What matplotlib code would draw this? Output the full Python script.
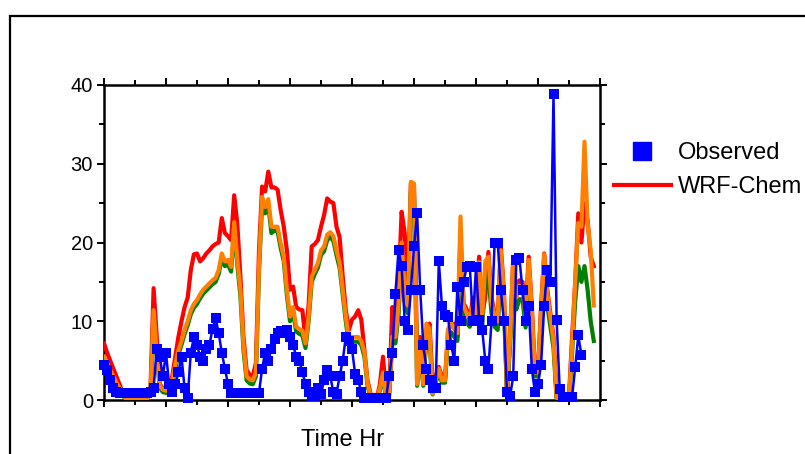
import numpy as np
import matplotlib
matplotlib.use('Agg')
import matplotlib.pyplot as plt
from matplotlib.lines import Line2D
from matplotlib.patches import Rectangle
from matplotlib.ticker import MultipleLocator

plt.rcParams['font.family'] = ['Liberation Sans', 'DejaVu Sans']

# ---- data (hourly) ----
wrf_chem = [
    7.2, 6.0, 5.0, 4.0, 3.0, 2.0, 1.0, 0.3, 0.2, 0.2,
    0.2, 0.2, 0.2, 0.2, 0.3, 1.5, 14.2, 8.0, 2.0, 1.5,
    1.3, 1.2, 3.0, 5.5, 8.0, 10.0, 11.8, 13.0, 16.5, 18.5,
    18.6, 17.6, 18.0, 18.6, 19.0, 19.5, 19.8, 20.0, 23.1, 21.2,
    20.8, 20.3, 26.0, 22.4, 15.7, 8.0, 3.8, 3.2, 3.0, 4.7,
    19.0, 27.1, 26.5, 29.0, 27.0, 27.0, 26.7, 24.1, 22.0, 19.0,
    14.0, 14.4, 11.8, 11.5, 11.4, 7.6, 12.0, 19.5, 19.8, 20.3,
    22.0, 23.5, 25.6, 25.2, 25.0, 22.0, 20.7, 15.7, 11.4, 8.9,
    10.2, 10.6, 11.4, 10.2, 6.3, 2.5, 0.8, 0.2, 0.2, 2.0,
    5.5, 0.5, 1.0, 11.8, 10.0, 14.0, 23.9, 21.2, 14.0, 27.5,
    27.1, 5.5, 8.0, 2.1, 8.0, 9.7, 2.5, 3.0, 4.2, 3.0,
    2.5, 8.9, 9.5, 9.7, 8.0, 20.0, 12.3, 11.5, 10.0, 13.0,
    11.4, 18.2, 11.0, 13.0, 18.8, 13.0, 11.0, 10.2, 19.5, 14.0,
    0.4, 8.0, 17.8, 13.5, 15.2, 15.0, 11.0, 18.2, 12.0, 3.8,
    3.8, 12.0, 18.6, 14.0, 11.0, 8.0, 0.4, 0.0, 0.0, 0.0,
    0.5, 8.0, 15.0, 23.7, 20.0, 25.0, 22.8, 18.2, 17.0,
]

wrf_green = [
    5.0, 4.2, 3.4, 2.6, 1.9, 1.2, 0.6, 0.1, 0.1, 0.1,
    0.1, 0.1, 0.1, 0.1, 0.2, 0.9, 10.8, 5.5, 1.5, 1.0,
    0.9, 0.9, 2.0, 4.0, 5.8, 7.0, 8.4, 9.5, 10.9, 11.7,
    12.2, 12.9, 13.5, 13.9, 14.3, 14.7, 15.0, 16.0, 18.0, 17.0,
    17.2, 16.3, 21.8, 17.2, 13.2, 6.3, 2.5, 2.1, 2.0, 3.0,
    16.3, 24.9, 23.7, 24.8, 21.2, 21.5, 21.4, 19.3, 17.6, 13.3,
    10.0, 11.1, 8.7, 8.4, 8.2, 6.6, 10.0, 15.0, 16.0, 16.8,
    18.4, 18.9, 20.3, 20.7, 20.2, 18.4, 16.8, 13.4, 10.0, 7.0,
    7.4, 7.4, 7.4, 7.0, 5.5, 1.8, 0.4, 0.1, 0.1, 1.2,
    3.0, 0.3, 0.6, 7.2, 7.2, 10.8, 18.0, 12.5, 11.0, 26.5,
    26.0, 1.8, 5.8, 1.8, 8.5, 8.0, 0.7, 2.2, 3.5, 2.2,
    2.2, 8.0, 8.6, 8.0, 7.5, 21.0, 10.5, 9.8, 9.3, 10.6,
    9.8, 15.5, 9.3, 15.5, 16.0, 11.0, 9.3, 8.9, 17.0, 12.0,
    0.8, 7.0, 16.0, 11.5, 12.8, 12.8, 9.2, 15.8, 10.2, 3.0,
    3.0, 10.2, 16.5, 12.0, 9.3, 6.6, 0.2, 0.0, 0.0, 0.0,
    0.2, 6.0, 12.5, 17.0, 15.0, 17.0, 14.0, 10.0, 7.5,
]

wrf_orange = [
    5.5, 4.6, 3.8, 3.0, 2.2, 1.5, 0.8, 0.2, 0.1, 0.1,
    0.1, 0.1, 0.1, 0.1, 0.2, 1.0, 11.4, 6.0, 1.8, 1.3,
    1.2, 1.1, 2.5, 4.5, 6.3, 7.5, 8.9, 10.0, 11.4, 12.2,
    12.7, 13.4, 14.0, 14.4, 14.8, 15.2, 15.5, 16.5, 18.6, 17.6,
    17.8, 16.9, 22.6, 17.8, 14.0, 7.0, 3.0, 2.6, 2.5, 3.5,
    16.9, 25.8, 24.5, 25.5, 22.0, 22.0, 22.0, 19.9, 18.2, 14.0,
    10.6, 11.8, 9.3, 9.0, 8.8, 7.2, 10.5, 15.7, 16.5, 17.4,
    19.0, 19.5, 21.0, 21.3, 20.8, 19.0, 17.4, 14.0, 10.6, 7.6,
    8.0, 8.0, 8.0, 7.5, 6.0, 2.2, 0.5, 0.1, 0.1, 1.5,
    3.5, 0.4, 0.8, 8.0, 8.0, 12.0, 20.0, 14.0, 12.0, 27.7,
    27.5, 2.0, 6.5, 2.0, 9.7, 9.0, 0.8, 2.5, 4.0, 2.5,
    2.5, 9.0, 9.8, 9.0, 8.5, 23.3, 12.0, 11.0, 10.5, 12.0,
    11.0, 17.5, 10.5, 17.6, 18.2, 12.5, 10.5, 10.0, 19.0, 13.5,
    1.0, 8.0, 18.0, 13.0, 14.5, 14.5, 10.5, 17.8, 11.5, 3.5,
    3.5, 11.5, 18.5, 13.5, 10.5, 7.5, 0.3, 0.0, 0.0, 0.0,
    0.3, 7.0, 15.0, 22.5, 22.0, 32.8, 22.4, 19.0, 12.0,
]

observed = [
    4.5, 3.8, 2.5, 1.5, 1.0, 0.9, 0.9, 0.9, 0.9, 0.9,
    0.9, 0.9, 0.9, 0.9, 0.9, 1.0, 1.5, 6.5, 5.5, 3.0,
    6.0, 2.0, 1.0, 2.0, 3.5, 5.5, 1.5, 0.3, 6.0, 8.0,
    7.0, 5.5, 5.0, 6.5, 7.0, 9.0, 10.4, 8.5, 6.0, 4.0,
    2.0, 0.9, 0.9, 0.9, 0.9, 0.9, 0.9, 0.9, 0.9, 0.9,
    0.9, 4.0, 6.0, 5.0, 6.5, 7.8, 8.5, 8.8, 8.5, 8.9,
    8.0, 7.0, 5.5, 5.0, 3.5, 2.0, 1.0, 0.5, 0.5, 1.5,
    0.8, 2.5, 3.8, 3.0, 1.0, 0.8, 3.0, 5.0, 8.0, 7.5,
    6.5, 3.3, 2.5, 1.0, 0.3, 0.3, 0.3, 0.3, 0.3, 0.3,
    0.3, 0.3, 3.0, 6.0, 13.5, 19.0, 17.0, 10.0, 8.9, 14.0,
    19.5, 23.7, 14.0, 7.0, 4.0, 2.5, 1.5, 1.5, 17.6, 12.0,
    10.8, 10.5, 7.0, 5.0, 14.4, 10.0, 15.0, 16.9, 17.0, 10.0,
    16.9, 10.2, 8.9, 5.0, 4.0, 10.0, 19.9, 20.0, 14.0, 10.0,
    1.0, 0.5, 3.0, 17.8, 18.0, 14.0, 10.0, 12.0, 4.0, 1.0,
    2.0, 4.5, 12.0, 16.5, 15.0, 38.8, 10.2, 1.4, 0.4, 0.4,
    0.4, 0.4, 4.2, 8.2, 5.7,
]

series_labels = ['Observed', 'WRF-Chem']
y_ticks = [0, 10, 20, 30, 40]

hours_model = np.arange(len(wrf_chem))
hours_obs = np.arange(len(observed))

fig = plt.figure(figsize=(8.05, 4.54), dpi=100)
ax = fig.add_axes([104 / 805, 1 - 400 / 454, 496 / 805, 315 / 454])

ax.plot(hours_model, wrf_chem, color='#ff0000', lw=3.0, zorder=3)
ax.plot(hours_model, wrf_green, color='#008000', lw=3.0, zorder=4)
ax.plot(hours_model, wrf_orange, color='#ff8000', lw=3.0, zorder=5)
ax.plot(hours_obs, observed, color='#0000ff', lw=1.8, marker='s', ms=7.5,
        markeredgewidth=0, zorder=6, clip_on=False)

ax.set_xlim(0, 160)
ax.set_ylim(0, 40)
ax.xaxis.set_major_locator(MultipleLocator(20))
ax.xaxis.set_minor_locator(MultipleLocator(10))
ax.set_yticks(y_ticks)
ax.yaxis.set_minor_locator(MultipleLocator(5))
ax.tick_params(which='both', direction='out', top=True, right=True,
               labelbottom=False, width=1.4, colors='black')
ax.tick_params(which='major', length=5)
ax.tick_params(which='minor', length=3.5)
ax.tick_params(axis='y', labelsize=14.5, pad=3)
for s in ax.spines.values():
    s.set_linewidth(1.8)

handles = [Line2D([], [], marker='s', color='#0000ff', ls='none', ms=13),
           Line2D([], [], color='#ff0000', lw=3.0)]
fig.legend(handles, series_labels, loc='upper left',
           bbox_to_anchor=(614 / 805, 1 - 142 / 454), frameon=False,
           fontsize=17, handlelength=2.4, handletextpad=0.3,
           labelspacing=0.5, borderpad=0, borderaxespad=0)

fig.text(343 / 805, 1 - 440 / 454, 'Time Hr', fontsize=17, ha='center', va='center')

rect = Rectangle((10 / 805, -0.5), 2.0, 0.5 + (1 - 16 / 454), transform=fig.transFigure,
                 fill=False, edgecolor='black', lw=1.6, clip_on=False)
fig.add_artist(rect)

fig.savefig('out.png', dpi=100)
